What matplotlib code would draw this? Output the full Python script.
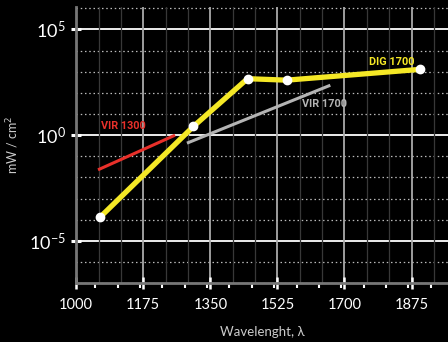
import numpy as np
import matplotlib
matplotlib.use('Agg')
import matplotlib.pyplot as plt
from matplotlib.ticker import FixedLocator, MultipleLocator

# DIG 1700 (yellow)
dig_x = [1062, 1306, 1447, 1549, 1898]
dig_y = [1.3e-4, 2.6, 470, 400, 1300]
# VIR 1300 (red)
vir13_x = [1057, 1258]
vir13_y = [0.023, 1.0]
# VIR 1700 (gray)
vir17_x = [1289, 1663]
vir17_y = [0.42, 230]

xticks = [1000, 1175, 1350, 1525, 1700, 1875]
yticks = [1e-5, 1, 1e5]
ytick_labels = [r'$\mathregular{10^{-5}}$', r'$\mathregular{10^{0}}$', r'$\mathregular{10^{5}}$']

plt.rcParams['font.family'] = ['Lato', 'DejaVu Sans']

fig = plt.figure(figsize=(4.48, 3.42), dpi=100, facecolor='black')
ax = fig.add_axes([0.170, 0.172, 0.83, 0.808])
ax.set_facecolor('black')

ax.set_yscale('log')
ax.set_xlim(1000, 1970)
ax.set_ylim(1e-7, 10**6.07)

# grids
for d in range(-7, 7):
    if d in (-5, 0, 5):
        ax.axhline(10.0**d, color='white', lw=1.3, zorder=1)
    else:
        ax.axhline(10.0**d, color='#bbbbbb', lw=0.9, ls=(0, (1.2, 2.2)), zorder=1)
for xv in np.arange(1000 + 175 / 3, 1970, 175 / 3):
    if any(abs(xv - t) < 1 for t in xticks):
        ax.axvline(xv, color='#aaaaaa', lw=1.3, zorder=1)
    else:
        ax.axvline(xv, color='#383838', lw=0.9, zorder=1)

ax.plot(vir13_x, vir13_y, color='#e8302a', lw=2.2, solid_capstyle='butt', zorder=3)
ax.plot(vir17_x, vir17_y, color='#b4b4b4', lw=2.2, solid_capstyle='butt', zorder=3)
ax.plot(dig_x, dig_y, color='#f5e826', lw=3.8, zorder=4,
        marker='o', markersize=6, markerfacecolor='white', markeredgecolor='white')

ax.text(1065, 2.7, 'VIR 1300', color='#e8302a', fontsize=7.8, family='Roboto',
        fontweight='bold', va='center', ha='left')
ax.text(1588, 29, 'VIR 1700', color='#b4b4b4', fontsize=7.8, family='Roboto',
        fontweight='bold', va='center', ha='left')
ax.text(1763, 2900, 'DIG 1700', color='#f5e826', fontsize=7.8, family='Roboto',
        fontweight='bold', va='center', ha='left')

ax.xaxis.set_major_locator(FixedLocator(xticks))
ax.xaxis.set_minor_locator(MultipleLocator(175 / 3))
ax.yaxis.set_major_locator(FixedLocator(yticks))
ax.yaxis.set_minor_locator(FixedLocator([]))
ax.set_yticklabels(ytick_labels)

ax.tick_params(axis='x', which='major', direction='inout', length=9, width=1.8,
               color='white', labelcolor='white', labelsize=10.5, pad=6)
ax.tick_params(axis='x', which='minor', direction='out', length=3.5, width=1.5,
               color='white')
ax.tick_params(axis='y', which='major', direction='inout', length=7, width=2.2,
               color='white', labelcolor='white', labelsize=13, pad=4)

for s in ['top', 'right']:
    ax.spines[s].set_visible(False)
for s in ['left', 'bottom']:
    ax.spines[s].set_color('#777777')
    ax.spines[s].set_linewidth(2)
    ax.spines[s].set_zorder(2)

ax.set_xlabel('Wavelenght, λ', color='#cccccc', fontsize=9.5, labelpad=10)
ax.set_ylabel('mW / cm$^2$', color='#cccccc', fontsize=9, labelpad=6)

fig.savefig('out.png', dpi=100, facecolor='black')
